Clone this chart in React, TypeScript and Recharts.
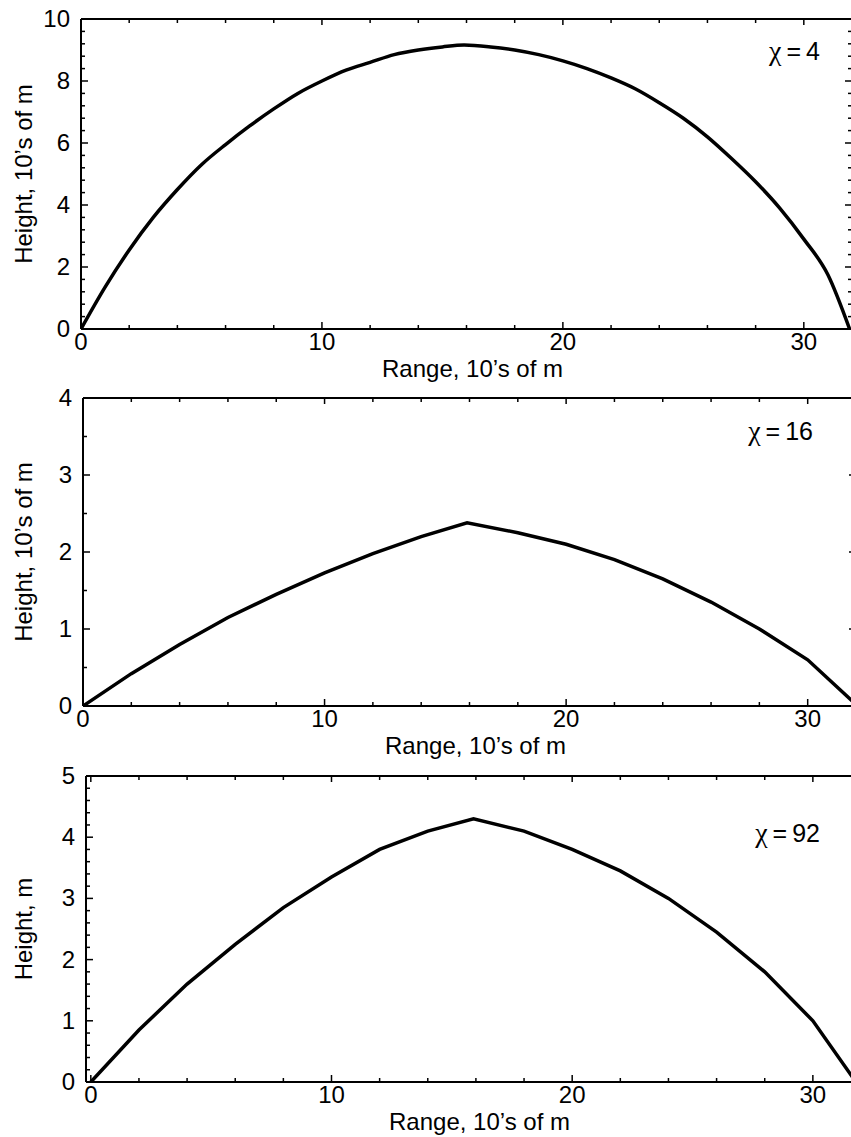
import React from 'react';
import { LineChart, Line, XAxis, YAxis } from 'recharts';

const SANS = '"Liberation Sans", Arial, Helvetica, sans-serif';
const SERIF = '"Liberation Serif", "DejaVu Serif", serif';

// Panel 1: chi = 4
const range1 = [0, 1, 2, 3, 4, 5, 6, 7, 8, 9, 10, 11, 12, 13, 14, 15, 15.9, 17, 18, 19, 20, 21, 22, 23, 24, 25, 26, 27, 28, 29, 30, 31, 31.9];
const height1 = [0, 1.35, 2.55, 3.6, 4.5, 5.3, 5.95, 6.55, 7.1, 7.6, 8.0, 8.35, 8.6, 8.85, 9.0, 9.1, 9.16, 9.1, 9.0, 8.85, 8.65, 8.4, 8.1, 7.75, 7.3, 6.8, 6.2, 5.5, 4.75, 3.9, 2.9, 1.75, 0];

// Panel 2: chi = 16
const range2 = [0, 2, 4, 6, 8, 10, 12, 14, 15.9, 18, 20, 22, 24, 26, 28, 30, 31.9];
const height2 = [0, 0.42, 0.8, 1.15, 1.45, 1.73, 1.98, 2.2, 2.38, 2.25, 2.1, 1.9, 1.65, 1.35, 1.0, 0.6, 0.05];

// Panel 3: chi = 92
const range3 = [0, 2, 4, 6, 8, 10, 12, 14, 15.9, 18, 20, 22, 24, 26, 28, 30, 31.7];
const height3 = [0, 0.85, 1.6, 2.25, 2.85, 3.35, 3.8, 4.1, 4.3, 4.1, 3.8, 3.45, 3.0, 2.45, 1.8, 1.0, 0.05];

const xTicks = [0, 2, 4, 6, 8, 10, 12, 14, 16, 18, 20, 22, 24, 26, 28, 30, 32];
const xMajor = [0, 10, 20, 30];

const yTicks1 = [0, 0.4, 0.8, 1.2, 1.6, 2, 2.4, 2.8, 3.2, 3.6, 4, 4.4, 4.8, 5.2, 5.6, 6, 6.4, 6.8, 7.2, 7.6, 8, 8.4, 8.8, 9.2, 9.6, 10];
const yMajor1 = [0, 2, 4, 6, 8, 10];
const yTicks2 = [0, 0.5, 1, 1.5, 2, 2.5, 3, 3.5, 4];
const yMajor2 = [0, 1, 2, 3, 4];
const yTicks3 = [0, 0.2, 0.4, 0.6, 0.8, 1, 1.2, 1.4, 1.6, 1.8, 2, 2.2, 2.4, 2.6, 2.8, 3, 3.2, 3.4, 3.6, 3.8, 4, 4.2, 4.4, 4.6, 4.8, 5];
const yMajor3 = [0, 1, 2, 3, 4, 5];

const isMajor = (v: number, majors: number[]) => majors.some((m) => Math.abs(m - v) < 1e-6);

const BottomTick = (props: any) => {
  const { x, y, payload, majors } = props;
  const major = isMajor(payload.value, majors);
  return (
    <g>
      <line x1={x} x2={x} y1={y} y2={y - (major ? 7 : 4)} stroke="#000" strokeWidth={1.5} />
      {major && (
        <text x={x} y={y + 21} textAnchor="middle" fontSize={24} fontFamily={SANS} fill="#000">
          {payload.value}
        </text>
      )}
    </g>
  );
};

const TopTick = (props: any) => {
  const { x, y, payload, majors } = props;
  const major = isMajor(payload.value, majors);
  return <line x1={x} x2={x} y1={y} y2={y + (major ? 6 : 4)} stroke="#000" strokeWidth={1.5} />;
};

const LeftTick = (props: any) => {
  const { x, y, payload, majors } = props;
  const major = isMajor(payload.value, majors);
  return (
    <g>
      <line x1={x} x2={x + (major ? 7 : 4)} y1={y} y2={y} stroke="#000" strokeWidth={1.5} />
      {major && (
        <text x={x - 11} y={y + 8} textAnchor="end" fontSize={24} fontFamily={SANS} fill="#000">
          {payload.value}
        </text>
      )}
    </g>
  );
};

const RightTick = (props: any) => {
  const { x, y, payload, majors } = props;
  const major = isMajor(payload.value, majors);
  return <line x1={x} x2={x - (major ? 7 : 4)} y1={y} y2={y} stroke="#000" strokeWidth={1.5} />;
};

const XTitle = (props: any) => {
  const { viewBox, text } = props;
  const cx = viewBox.x + viewBox.width / 2 + 6;
  return (
    <text x={cx} y={viewBox.y + 48} textAnchor="middle" fontSize={24} fontFamily={SANS} fill="#000">
      {text}
    </text>
  );
};

const YTitle = (props: any) => {
  const { viewBox, text } = props;
  const cy = viewBox.y + viewBox.height / 2;
  return (
    <text
      x={32}
      y={cy}
      transform={`rotate(-90, 32, ${cy})`}
      textAnchor="middle"
      fontSize={24}
      fontFamily={SANS}
      fill="#000"
    >
      {text}
    </text>
  );
};

const ChiLabel = (props: any) => {
  const { right, base, value } = props;
  return (
    <text x={right} y={base} textAnchor="end" fontSize={25} fontFamily={SANS} fill="#000">
      <tspan fontFamily={SERIF} fontSize={28}>χ</tspan>
      <tspan dx={5}>=</tspan>
      <tspan dx={5}>{value}</tspan>
    </text>
  );
};

type Box = { top: number; right: number; bottom: number; left: number };

type PanelProps = {
  top: number;
  height: number;
  plot: Box; // plot-area edges in chart coordinates
  rng: number[];
  hts: number[];
  curve: 'linear' | 'monotone';
  xDomain: [number, number];
  yDomain: [number, number];
  yTicks: number[];
  yMajor: number[];
  yTitle: string;
  chi: string;
  chiRight: number;
  chiBase: number;
};

const CHART_W = 880;
const LEFT_W = 60;
const RIGHT_W = 10;
const TOP_H = 10;
const BOTTOM_H = 50;

const Panel = (p: PanelProps) => {
  const data = p.rng.map((r, i) => ({ r, h: p.hts[i] }));
  const axisLine = { stroke: '#000', strokeWidth: 2 };
  const margin = {
    top: p.plot.top - TOP_H,
    left: p.plot.left - LEFT_W,
    right: CHART_W - p.plot.right - RIGHT_W,
    bottom: p.height - p.plot.bottom - BOTTOM_H,
  };
  return (
    <div style={{ position: 'absolute', left: 0, top: p.top, width: CHART_W, height: p.height }}>
      <LineChart width={CHART_W} height={p.height} data={data} margin={margin}>
        <XAxis
          xAxisId="b"
          dataKey="r"
          type="number"
          domain={p.xDomain}
          ticks={xTicks}
          interval={0}
          allowDataOverflow
          height={BOTTOM_H}
          tickSize={0}
          tickMargin={0}
          axisLine={axisLine}
          tickLine={false}
          tick={<BottomTick majors={xMajor} />}
          label={<XTitle text="Range, 10’s of m" />}
        />
        <XAxis
          xAxisId="t"
          orientation="top"
          dataKey="r"
          type="number"
          domain={p.xDomain}
          ticks={xTicks}
          interval={0}
          allowDataOverflow
          height={TOP_H}
          tickSize={0}
          tickMargin={0}
          axisLine={axisLine}
          tickLine={false}
          tick={<TopTick majors={xMajor} />}
          label={<ChiLabel right={p.chiRight} base={p.chiBase} value={p.chi} />}
        />
        <YAxis
          yAxisId="l"
          type="number"
          domain={p.yDomain}
          ticks={p.yTicks}
          interval={0}
          allowDataOverflow
          width={LEFT_W}
          tickSize={0}
          tickMargin={0}
          axisLine={axisLine}
          tickLine={false}
          tick={<LeftTick majors={p.yMajor} />}
          label={<YTitle text={p.yTitle} />}
        />
        <YAxis
          yAxisId="r"
          orientation="right"
          type="number"
          domain={p.yDomain}
          ticks={p.yTicks}
          interval={0}
          allowDataOverflow
          width={RIGHT_W}
          tickSize={0}
          tickMargin={0}
          axisLine={axisLine}
          tickLine={false}
          tick={<RightTick majors={p.yMajor} />}
        />
        <Line
          xAxisId="b"
          yAxisId="l"
          type={p.curve}
          dataKey="h"
          stroke="#000"
          strokeWidth={3.5}
          dot={false}
          isAnimationActive={false}
        />
      </LineChart>
    </div>
  );
};

export default function App() {
  return (
    <div
      style={{
        position: 'absolute',
        left: 0,
        top: 0,
        width: 851,
        height: 1137,
        overflow: 'hidden',
        background: '#fff',
      }}
    >
      <Panel
        top={0}
        height={390}
        plot={{ top: 19, right: 852, bottom: 329, left: 81 }}
        rng={range1}
        hts={height1}
        curve="monotone"
        xDomain={[0, 32]}
        yDomain={[0, 10]}
        yTicks={yTicks1}
        yMajor={yMajor1}
        yTitle="Height, 10’s of m"
        chi="4"
        chiRight={820}
        chiBase={60}
      />
      <Panel
        top={370}
        height={400}
        plot={{ top: 28, right: 856, bottom: 336, left: 83 }}
        rng={range2}
        hts={height2}
        curve="linear"
        xDomain={[0, 32]}
        yDomain={[0, 4]}
        yTicks={yTicks2}
        yMajor={yMajor2}
        yTitle="Height, 10’s of m"
        chi="16"
        chiRight={813}
        chiBase={70}
      />
      <Panel
        top={745}
        height={392}
        plot={{ top: 31, right: 861, bottom: 337, left: 86 }}
        rng={range3}
        hts={height3}
        curve="linear"
        xDomain={[-0.2, 32]}
        yDomain={[0, 5]}
        yTicks={yTicks3}
        yMajor={yMajor3}
        yTitle="Height, m"
        chi="92"
        chiRight={820}
        chiBase={97}
      />
    </div>
  );
}
